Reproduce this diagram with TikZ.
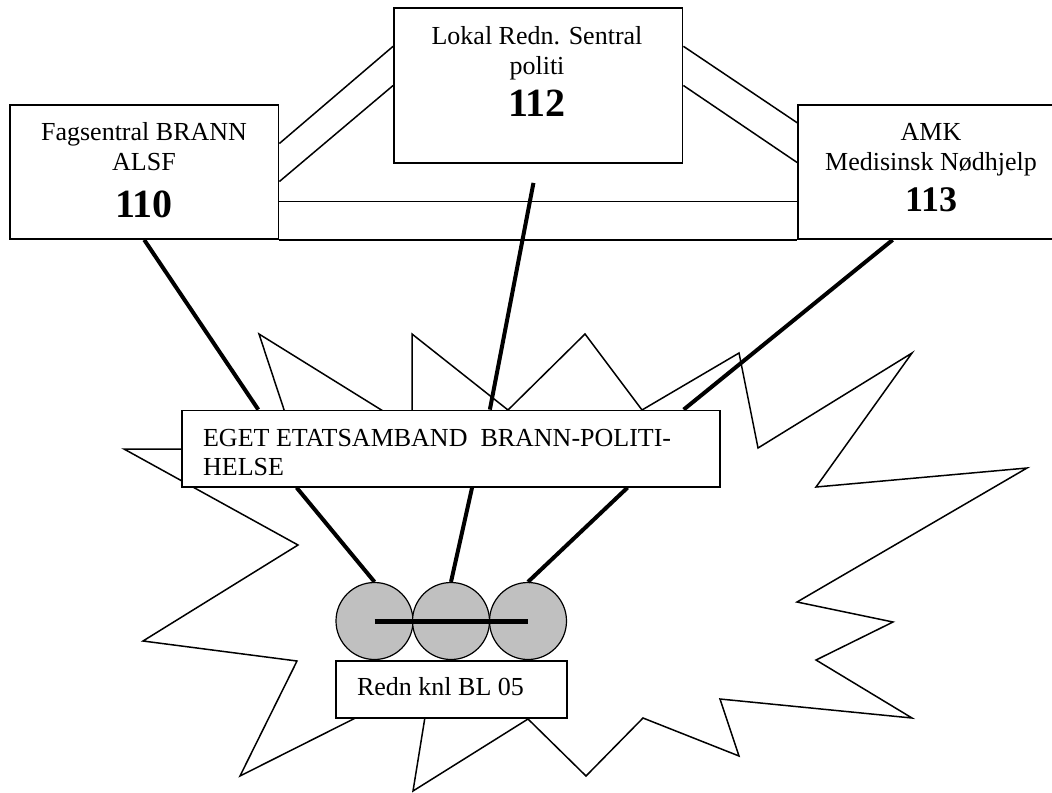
\documentclass[tikz,border=0pt]{standalone}
\usepackage{fontspec}
\setmainfont{Liberation Serif}
\usepackage{tikz}
\usetikzlibrary{calc}
\definecolor{unitgray}{RGB}{192,192,192}
\newcommand{\numbig}{\bfseries\fontsize{20}{24}\selectfont}
\newcommand{\nummid}{\bfseries\fontsize{18}{22}\selectfont}

\begin{document}
\begin{tikzpicture}[x=0.5pt,y=-0.5pt,line join=miter]
  \tikzstyle{box}=[draw,fill=white,line width=0.9pt,inner sep=0pt]
  \tikzstyle{txt}=[inner sep=0pt,align=center,font=\fontsize{13}{15}\selectfont]
  \tikzstyle{wire}=[line width=0.75pt]
  \tikzstyle{radio}=[line width=2pt]
  \tikzstyle{unit}=[circle,draw,fill=unitgray,line width=0.6pt,minimum size=38.5pt,inner sep=0pt]

  \useasboundingbox (0,0) rectangle (1052,792);

  % the accident site
  \draw[wire] (124,449) -- (298,545) -- (143,641) -- (297,661) -- (240,776)
    -- (431,680) -- (413,791) -- (528,719) -- (586,776) -- (643,718)
    -- (739,756) -- (720,699) -- (912,718) -- (816,660) -- (893,622)
    -- (797,602) -- (1027,468) -- (816,487) -- (912,353) -- (758,448)
    -- (739,353) -- (642,410) -- (585,334) -- (508,410) -- (412,334)
    -- (412,429) -- (259,334) -- (297,449) -- cycle;

  % central offices
  \node[box,minimum width=134.25pt,minimum height=67pt]   (fag)   at (144.25,172) {};
  \node[box,minimum width=144.25pt,minimum height=77.5pt] (lokal) at (538.25,85.5) {};
  \node[box,minimum width=134pt,minimum height=67pt]      (amk)   at (932,172) {};
  \node[txt,anchor=north] (fagtxt)   at (144,122) {Fagsentral BRANN\\ALSF\\[8.7pt]{\numbig 110}};
  \node[txt,anchor=north] (lokaltxt) at (537,26.5) {Lokal Redn. Sentral\\politi\\[4pt]{\numbig 112}};
  \node[txt,anchor=north] (amktxt)   at (931,123) {AMK\\Medisinsk Nødhjelp\\[5.7pt]{\nummid 113}};

  % common radio net and the units
  \node[box,minimum width=269pt,minimum height=38.1pt] (eget) at (451,448.6) {};
  \node[txt,align=left,anchor=north west,font=\fontsize{13}{14.5}\selectfont] (egettxt)
    at (202.7,428.8) {EGET ETATSAMBAND\ \ BRANN-POLITI-\\HELSE};
  \node[unit] (u1) at (374.5,621) {};
  \node[unit] (u2) at (451,621) {};
  \node[unit] (u3) at (528,621) {};
  \node[box,minimum width=115.5pt,minimum height=28.8pt] (redn) at (451.2,689.5) {};
  \node[txt,anchor=north west] (redntxt) at (356.7,677.5) {Redn knl BL 05};

  % lines between the offices
  \draw[wire] ($(fag.north east)!0.29!(fag.south east)$) -- ($(lokal.north west)!0.25!(lokal.south west)$);
  \draw[wire] ($(fag.north east)!0.57!(fag.south east)$) -- (lokal.west);
  \draw[wire] ($(lokal.north east)!0.25!(lokal.south east)$) -- ($(amk.north west)!0.137!(amk.south west)$);
  \draw[wire] (lokal.east) -- ($(amk.north west)!0.43!(amk.south west)$);
  \draw[wire] ($(fag.north east)!0.716!(fag.south east)$) -- ($(amk.north west)!0.716!(amk.south west)$);
  \draw[wire] (fag.south east) -- (amk.south west);

  % radio links
  \coordinate (polend) at ([xshift=-2.4pt,yshift=-9.5pt]lokal.south);
  \draw[radio] (fag.south) -- ($(eget.north west)!0.143!(eget.north east)$);
  \draw[radio] (polend) -- ($(eget.north west)!0.572!(eget.north east)$);
  \draw[radio] ($(amk.south west)!0.354!(amk.south east)$) -- ($(eget.north west)!0.931!(eget.north east)$);
  \draw[radio] ($(eget.south west)!0.214!(eget.south east)$) -- (u1.north);
  \draw[radio] ($(eget.south west)!0.539!(eget.south east)$) -- (u2.north);
  \draw[radio] ($(eget.south west)!0.827!(eget.south east)$) -- (u3.north);
  \draw[line width=2.5pt] (u1.center) -- (u3.center);
\end{tikzpicture}
\end{document}
